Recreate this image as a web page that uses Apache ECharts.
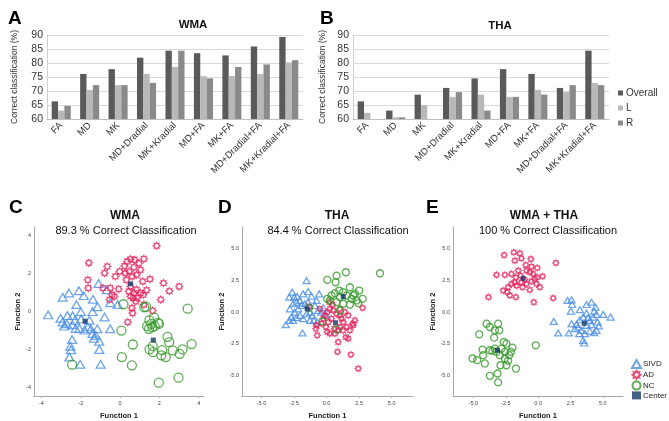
<!DOCTYPE html>
<html><head><meta charset="utf-8">
<script src="https://cdn.jsdelivr.net/npm/echarts@6/dist/echarts.min.js"></script>
<style>html,body{margin:0;padding:0;background:#fff}#c{width:669px;height:421px}</style>
</head><body><div id="c"></div>
<script>
const categories = ['FA','MD','MK','MD+Dradial','MK+Kradial','MD+FA','MK+FA','MD+Dradial+FA','MK+Kradial+FA'];
const wmaOverall = [66.3, 76.1, 77.8, 81.9, 84.4, 83.5, 82.7, 85.9, 89.3];
const wmaL = [63.0, 70.4, 72.1, 76.1, 78.6, 75.3, 75.3, 76.1, 80.2];
const wmaR = [64.7, 72.1, 72.1, 72.9, 84.4, 74.5, 78.6, 79.5, 81.0];
const thaOverall = [66.3, 63.0, 68.7, 71.1, 74.5, 77.8, 76.1, 71.1, 84.4];
const thaL = [62.2, 60.6, 64.9, 67.9, 68.7, 67.9, 70.4, 69.6, 72.9];
const thaR = [null, 60.6, null, 69.6, 63.0, 67.9, 68.7, 72.1, 72.1];
const barTicks = [60, 65, 70, 75, 80, 85, 90];
const ticksC = [-4, -2, 0, 2, 4];
const ticksDE = [-5, -2.5, 0, 2.5, 5];

const cSIVD = [[-3.66,-0.19],[-3.03,-0.37],[-2.92,-0.56],[-2.84,-0.78],[-2.68,-0.23],[-2.41,-0.23],[-2.29,-0.47],[-2.44,-0.71],[-2.26,-0.90],[-2.07,-0.90],[-1.81,-0.99],[-1.49,-0.92],[-1.40,-1.17],[-1.16,-0.92],[-1.33,-1.41],[-1.06,-1.57],[-2.44,-1.48],[-2.53,-1.83],[-2.50,-2.02],[-2.58,-2.40],[-2.03,-2.78],[-0.99,-2.78],[-1.06,-2.00],[-0.50,-0.92],[-0.79,-0.30],[-1.40,-0.02],[-1.15,0.24],[-2.00,-0.03],[-2.22,0.35],[-1.85,0.82],[-2.10,1.08],[-2.60,0.96],[-2.92,0.73],[-1.38,0.63],[-1.09,1.46],[-0.67,1.13],[-0.50,0.45],[-0.12,0.35],[-1.98,-0.40],[-1.56,-0.47],[-2.72,-0.66],[-1.23,-1.27],[-1.64,-0.82]];
const cAD = [[1.86,3.43],[-1.59,2.54],[-0.65,2.35],[-0.79,2.00],[-1.64,1.65],[-1.62,1.22],[-0.87,1.22],[-0.50,1.22],[-0.07,1.17],[-0.41,0.87],[-0.53,0.61],[-0.29,0.78],[-0.02,2.09],[0.22,2.38],[0.36,2.61],[0.53,2.73],[0.74,2.70],[0.96,2.52],[1.21,2.75],[1.04,2.17],[0.84,1.91],[0.62,1.83],[0.27,2.00],[0.46,2.09],[0.32,1.65],[0.53,1.30],[0.44,1.04],[0.70,0.96],[0.84,1.13],[0.67,0.70],[0.87,0.70],[0.80,0.52],[1.04,0.96],[1.35,1.11],[1.18,0.87],[1.52,1.69],[1.15,1.57],[2.21,1.48],[2.51,1.06],[3.01,1.30],[2.07,0.61],[0.60,0.17],[0.63,-0.09],[0.39,-0.57],[1.66,0.03],[1.21,0.35],[0.70,2.31],[-0.24,1.83],[0.53,0.78]];
const cNC = [[3.44,0.14],[0.17,0.37],[1.23,0.21],[1.33,0.23],[1.49,-0.47],[1.73,-0.33],[1.93,-0.61],[1.47,-0.92],[1.64,-0.83],[1.76,-0.78],[1.98,-0.66],[1.59,-0.66],[0.07,-1.01],[0.65,-1.74],[0.09,-2.40],[0.60,-2.83],[1.66,-1.83],[1.50,-2.00],[1.68,-2.14],[2.14,-2.03],[2.10,-2.31],[2.32,-2.40],[2.41,-1.34],[2.50,-1.62],[2.68,-2.05],[3.03,-2.23],[3.18,-2.00],[3.64,-1.72],[2.97,-3.48],[1.97,-3.74],[-2.44,-2.80],[1.38,-0.78]];
const cCenter = [[-1.78,-0.52],[0.53,1.44],[1.69,-1.51]];

const dSIVD = [[-1.54,2.48],[-2.64,1.57],[-2.87,1.18],[-2.49,1.18],[-2.26,1.23],[-1.80,1.44],[-1.41,1.62],[-1.16,1.26],[-0.57,1.44],[-2.82,0.26],[-2.57,0.66],[-2.31,0.79],[-2.05,0.92],[-1.93,0.52],[-2.18,0.26],[-2.44,0.00],[-2.69,-0.39],[-2.87,-0.65],[-3.13,-0.99],[-2.57,-0.65],[-2.31,-0.44],[-2.05,-0.26],[-1.80,-0.52],[-1.54,-0.13],[-1.28,0.00],[-1.08,-0.26],[-0.98,-0.65],[-0.72,-0.78],[-1.28,-0.65],[-1.85,-1.64],[-0.90,0.52],[-0.64,0.13],[-0.39,0.00],[-0.26,0.34],[-1.67,0.66],[-1.41,0.79],[-0.77,0.92],[-0.05,-0.26]];
const dAD = [[2.77,0.34],[2.18,-0.65],[2.05,-1.04],[1.79,-1.43],[1.66,-2.09],[0.89,-2.35],[0.84,-3.13],[1.87,-3.34],[2.43,-4.44],[-0.82,-1.30],[-0.72,-1.82],[0.05,-1.56],[0.25,-1.69],[-0.05,-1.17],[-0.26,-0.52],[0.05,0.00],[0.25,0.26],[0.51,0.13],[0.77,-0.13],[1.02,-0.26],[1.15,-0.52],[1.28,-0.78],[1.02,-1.17],[1.28,-1.43],[1.54,-1.17],[0.89,-1.43],[0.64,-1.69],[0.38,-0.52],[0.13,-0.78],[-0.52,0.26],[0.20,0.79],[0.46,0.60],[1.02,0.26],[1.41,0.00],[1.66,-0.26],[2.00,-0.91],[1.48,-1.96],[0.59,-1.30],[-0.13,-0.26],[-0.39,-0.91],[-1.33,0.44],[-0.77,-1.04]];
const dNC = [[4.10,3.06],[1.48,3.14],[0.77,2.87],[0.05,2.54],[0.69,2.35],[1.79,1.96],[2.51,1.70],[0.97,1.70],[0.64,1.49],[1.28,1.57],[1.54,1.31],[2.05,1.31],[2.31,0.92],[2.77,1.05],[2.43,0.71],[1.79,0.60],[1.28,0.66],[0.77,0.79],[0.25,0.92],[0.05,1.05],[1.02,0.13],[-0.31,-0.73],[0.77,-1.36],[-1.34,0.34],[1.92,1.05],[1.02,1.18],[0.38,1.31],[2.18,1.44]];
const dCenter = [[-1.49,0.26],[0.69,-0.83],[1.28,1.22]];

const eSIVD = [[2.27,0.92],[2.58,0.97],[2.63,0.60],[2.53,0.08],[3.22,0.19],[3.74,0.60],[4.12,0.78],[4.44,0.39],[4.33,0.08],[4.51,-0.18],[4.25,-0.39],[5.03,-0.18],[5.60,-0.39],[4.59,-0.78],[4.69,-1.09],[4.51,-1.43],[4.33,-1.62],[4.00,-1.49],[3.61,-1.69],[3.48,-2.22],[3.56,-2.43],[3.17,-1.69],[2.84,-1.30],[2.58,-0.91],[2.37,-1.64],[1.55,-1.64],[1.21,-0.73],[3.74,-1.04],[2.97,-0.96],[3.22,-0.60],[4.00,-0.65],[4.12,-0.99],[3.87,-0.44],[3.48,-0.39],[3.74,-0.08],[3.09,-1.17],[3.35,-1.43]];
const eAD = [[-2.63,4.49],[-1.88,4.70],[-1.41,4.62],[-1.29,4.23],[-1.80,4.05],[-0.56,4.18],[1.37,3.87],[-0.95,3.71],[-0.51,3.58],[-0.07,3.48],[-0.90,3.27],[-1.54,3.27],[-2.06,3.01],[-2.57,2.93],[-3.22,2.93],[0.34,2.82],[-0.07,2.74],[-0.38,3.01],[-0.64,3.14],[-1.36,2.87],[-1.72,2.74],[-1.80,2.35],[-1.29,2.35],[-0.90,2.22],[-0.51,2.43],[-0.13,2.22],[0.13,1.96],[-0.64,1.75],[-1.21,1.96],[-1.67,2.09],[-2.06,2.22],[-2.32,1.96],[-2.70,1.70],[-2.39,1.57],[-2.19,1.31],[-1.72,1.18],[-3.84,1.18],[-0.33,0.78],[1.16,1.10],[-1.03,2.54],[-0.26,2.61]];
const eNC = [[-3.99,-0.91],[-3.73,-1.17],[-3.09,-0.91],[-3.35,-1.43],[-3.01,-1.43],[-4.56,-1.75],[-3.40,-2.01],[-2.65,-2.35],[-2.45,-2.48],[-1.98,-2.79],[-2.11,-3.13],[-2.24,-3.39],[-2.57,-3.13],[-2.83,-2.87],[-3.35,-2.87],[-3.73,-3.00],[-4.30,-2.95],[-3.53,-3.05],[-4.25,-3.39],[-5.07,-3.65],[-4.71,-3.78],[-4.12,-4.04],[-2.57,-3.65],[-2.45,-4.18],[-2.91,-4.18],[-1.72,-4.44],[-3.73,-5.01],[-3.14,-4.83],[-3.09,-5.53],[-0.18,-2.61],[-3.22,-3.13],[-2.96,-3.39],[-2.32,-3.83]];
const eCenter = [[-1.16,2.66],[3.56,-0.88],[-3.14,-3.00]];

const FONT = '"Liberation Sans", Arial, sans-serif';
const cOverall = '#5a5a5a', cL = '#b8b8b8', cR = '#8a8a8a';
const cBlue = '#4a8fe3', cRed = '#e3265c', cGreen = '#36982a', cCtr = '#173a68';
const starPath = 'path://M10 0L12.49 3.99L17.07 2.93L16.01 7.51L20 10L16.01 12.49L17.07 17.07L12.49 16.01L10 20L7.51 16.01L2.93 17.07L3.99 12.49L0 10L3.99 7.51L2.93 2.93L7.51 3.99Z';

const grids = [
  {left: 47, top: 35, width: 256, height: 84},
  {left: 353, top: 35, width: 256, height: 84},
  {left: 34, top: 227, width: 170, height: 170},
  {left: 242, top: 227, width: 171, height: 170},
  {left: 453, top: 227, width: 170, height: 170}
];

function barX(gi) {
  return {type: 'category', gridIndex: gi, data: categories,
    axisLine: {lineStyle: {color: '#bfbfbf'}}, axisTick: {show: false},
    axisLabel: {rotate: 45, interval: 0, fontSize: 9.5, color: '#333', fontFamily: FONT, margin: 5}};
}
function barY(gi, gap) {
  return {type: 'value', gridIndex: gi, min: 60, max: 90, interval: 5,
    name: 'Correct classification (%)', nameLocation: 'middle', nameGap: gap,
    nameTextStyle: {fontSize: 8.5, color: '#333', fontFamily: FONT},
    axisLine: {show: true, lineStyle: {color: '#d0d0d0'}}, axisTick: {show: false},
    splitLine: {lineStyle: {color: '#d9d9d9'}},
    axisLabel: {fontSize: 10.5, color: '#333', fontFamily: FONT, margin: 4}};
}
function scX(gi, mn, mx, ticks, fmt) {
  return {type: 'value', gridIndex: gi, min: mn, max: mx, name: 'Function 1', nameLocation: 'middle', nameGap: 16,
    nameTextStyle: {fontSize: 7.5, fontWeight: 'bold', color: '#222', fontFamily: FONT},
    axisLine: {show: true, onZero: false, lineStyle: {color: '#a8a8a8'}},
    axisTick: {show: true, length: 2, customValues: ticks, lineStyle: {color: '#a8a8a8'}},
    splitLine: {show: false},
    axisLabel: {customValues: ticks, fontSize: 5.5, color: '#444', fontFamily: FONT, margin: 4, formatter: fmt}};
}
function scY(gi, mn, mx, ticks, fmt, gap) {
  return {type: 'value', gridIndex: gi, min: mn, max: mx, name: 'Function 2', nameLocation: 'middle', nameGap: gap,
    nameTextStyle: {fontSize: 7.5, fontWeight: 'bold', color: '#222', fontFamily: FONT},
    axisLine: {show: true, onZero: false, lineStyle: {color: '#a8a8a8'}},
    axisTick: {show: false},
    splitLine: {show: false},
    axisLabel: {customValues: ticks, fontSize: 5.5, color: '#444', fontFamily: FONT, margin: 3, formatter: fmt}};
}
const fmtInt = v => String(Math.round(v));
const fmt1 = v => v.toFixed(1);

function bars(gi, o, l, r) {
  const base = {type: 'bar', xAxisIndex: gi, yAxisIndex: gi, barGap: '0%', barCategoryGap: '33%', silent: true};
  return [
    Object.assign({}, base, {name: 'Overall', data: o, itemStyle: {color: cOverall}}),
    Object.assign({}, base, {name: 'L', data: l, itemStyle: {color: cL}}),
    Object.assign({}, base, {name: 'R', data: r, itemStyle: {color: cR}})
  ];
}
function scat(gi, sivd, ad, nc, ctr, s) {
  const base = {type: 'scatter', xAxisIndex: gi, yAxisIndex: gi, silent: true};
  return [
    Object.assign({}, base, {name: 'SIVD', data: sivd, symbol: 'triangle', symbolSize: [s.tri, s.tri * 0.85],
      itemStyle: {color: 'rgba(255,255,255,0)', borderColor: cBlue, borderWidth: 1.3}}),
    Object.assign({}, base, {name: 'AD', data: ad, symbol: starPath, symbolSize: s.star,
      itemStyle: {color: 'rgba(255,255,255,0)', borderColor: cRed, borderWidth: 1.2}}),
    Object.assign({}, base, {name: 'NC', data: nc, symbol: 'circle', symbolSize: s.circ,
      itemStyle: {color: 'rgba(255,255,255,0)', borderColor: cGreen, borderWidth: 1.3}}),
    Object.assign({}, base, {name: 'Center', data: ctr, symbol: 'rect', symbolSize: s.sq,
      itemStyle: {color: cCtr}})
  ];
}

const titleText = (t, x, y, size, weight) => ({text: t, left: x, top: y, textAlign: 'center',
  textStyle: {fontSize: size, fontWeight: weight, color: '#111', fontFamily: FONT}});

const chart = echarts.init(document.getElementById('c'), null, {renderer: 'canvas'});
chart.setOption({
  animation: false,
  backgroundColor: '#fff',
  title: [
    {text: 'A', left: 3, top: 4, textStyle: {fontSize: 19, fontWeight: 'bold', color: '#000', fontFamily: FONT}},
    {text: 'B', left: 315, top: 4, textStyle: {fontSize: 19, fontWeight: 'bold', color: '#000', fontFamily: FONT}},
    {text: 'C', left: 4, top: 193, textStyle: {fontSize: 19, fontWeight: 'bold', color: '#000', fontFamily: FONT}},
    {text: 'D', left: 213, top: 193, textStyle: {fontSize: 19, fontWeight: 'bold', color: '#000', fontFamily: FONT}},
    {text: 'E', left: 421, top: 193, textStyle: {fontSize: 19, fontWeight: 'bold', color: '#000', fontFamily: FONT}},
    titleText('WMA', 188, 14, 11.5, 'bold'),
    titleText('THA', 495, 15, 11.5, 'bold'),
    titleText('WMA', 120, 205, 12, 'bold'),
    titleText('89.3 % Correct Classification', 121, 220, 11, 'normal'),
    titleText('THA', 332, 205, 12, 'bold'),
    titleText('84.4 % Correct Classification', 333, 220, 11, 'normal'),
    titleText('WMA + THA', 539, 205, 12, 'bold'),
    titleText('100 % Correct Classification', 543, 220, 11, 'normal')
  ],
  legend: [
    {data: ['Overall', 'L', 'R'], left: 618, top: 88, padding: 0, orient: 'vertical', icon: 'rect', itemWidth: 5, itemHeight: 5, itemGap: 5,
      textStyle: {fontSize: 10, color: '#333', fontFamily: FONT, padding: [0, 0, 0, -2]}, selectedMode: false},
    {data: ['SIVD', 'AD', 'NC', 'Center'], left: 631, top: 359, padding: 0, orient: 'vertical', itemWidth: 9, itemHeight: 8, itemGap: 0.8,
      textStyle: {fontSize: 8, color: '#222', fontFamily: FONT, padding: [0, 0, 0, -3]}, selectedMode: false}
  ],
  grid: grids,
  xAxis: [barX(0), barX(1),
    scX(2, -4.38, 4.27, ticksC, fmtInt), scX(3, -6.5, 6.64, ticksDE, fmt1), scX(4, -6.58, 6.56, ticksDE, fmt1)],
  yAxis: [barY(0, 28), barY(1, 26),
    scY(2, -4.44, 4.42, ticksC, fmtInt, 11), scY(3, -6.6, 6.7, ticksDE, fmt1, 15), scY(4, -6.6, 6.7, ticksDE, fmt1, 16)],
  series: [].concat(
    bars(0, wmaOverall, wmaL, wmaR),
    bars(1, thaOverall, thaL, thaR),
    scat(2, cSIVD, cAD, cNC, cCenter, {tri: 9, star: 7, circ: 9, sq: 5}),
    scat(3, dSIVD, dAD, dNC, dCenter, {tri: 7, star: 6, circ: 7, sq: 5}),
    scat(4, eSIVD, eAD, eNC, eCenter, {tri: 7, star: 6, circ: 7, sq: 5})
  )
});
</script></body></html>
